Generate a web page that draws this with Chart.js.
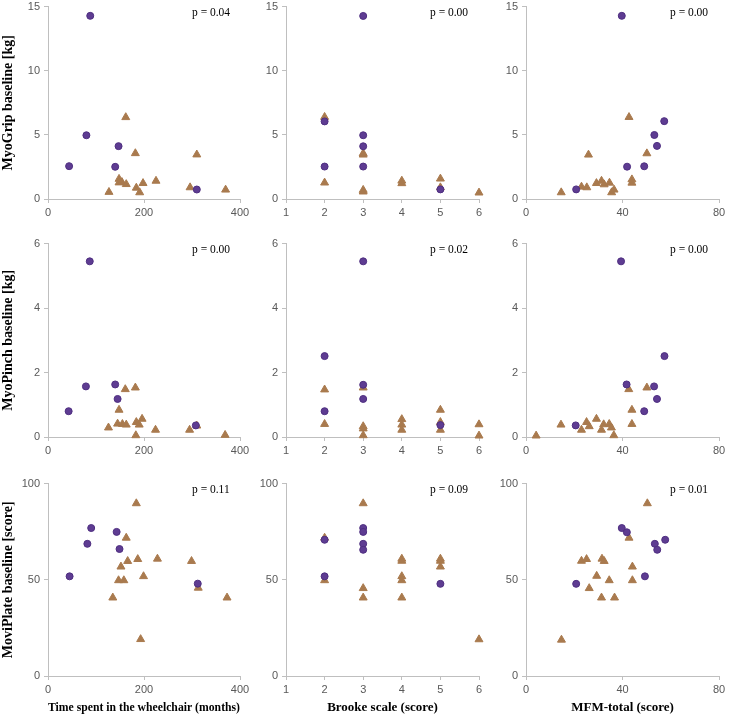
<!DOCTYPE html>
<html>
<head>
<meta charset="utf-8">
<script src="https://cdn.jsdelivr.net/npm/chart.js@4"></script>
<style>
  html, body { margin: 0; padding: 0; background: #fff; overflow: hidden; }
  #wrap { position: relative; width: 735px; height: 715px; }
  canvas { position: absolute; }
</style>
</head>
<body>
<div id="wrap"></div>
<script>
// tick labels
const timeTicks = [0, 200, 400];
const brookeTicks = [1, 2, 3, 4, 5, 6];
const mfmTicks = [0, 40, 80];
const gripTicks = [0, 5, 10, 15];
const pinchTicks = [0, 2, 4, 6];
const plateTicks = [0, 50, 100];

// axis titles
const xTitles = ["Time spent in the wheelchair (months)", "Brooke scale (score)", "MFM-total (score)"];
const yTitles = ["MyoGrip baseline [kg]", "MyoPinch baseline [kg]", "MoviPlate baseline [score]"];

// p values, row by row
const pValues = ["p = 0.04", "p = 0.00", "p = 0.00",
                 "p = 0.00", "p = 0.02", "p = 0.00",
                 "p = 0.11", "p = 0.09", "p = 0.01"];

// MyoGrip
const gripTimeCircles = [[44, 2.56], [80, 4.97], [88, 14.28], [147, 4.12], [140, 2.51], [310, 0.74]];
const gripTimeTriangles = [[162, 6.37], [182, 3.56], [310, 3.46], [127, 0.54], [148, 1.56], [148, 1.28], [154, 1.31],
  [163, 1.15], [184, 0.87], [191, 0.51], [198, 1.23], [225, 1.41], [296, 0.9], [370, 0.72]];
const gripBrookeCircles = [[2, 6.05], [2, 2.53], [3, 14.27], [3, 4.97], [3, 4.11], [3, 2.53], [5, 0.75]];
const gripBrookeTriangles = [[2, 6.39], [2, 1.27], [3, 3.45], [3, 3.56], [3, 0.7], [3, 0.57], [4, 1.42], [4, 1.22],
  [5, 1.58], [5, 0.9], [6, 0.49]];
const gripMfmCircles = [[20.8, 0.75], [39.7, 14.28], [41.9, 2.52], [49, 2.55], [53.2, 4.99], [54.3, 4.14], [57.3, 6.07]];
const gripMfmTriangles = [[14.6, 0.51], [23, 0.95], [25.2, 0.9], [25.9, 3.45], [29.2, 1.23], [31.3, 1.41], [32.4, 1.13],
  [34.6, 1.26], [35.5, 0.51], [36.5, 0.72], [42.7, 6.38], [43.9, 1.52], [43.9, 1.26], [50.1, 3.55]];

// MyoPinch
const pinchTimeCircles = [[43, 0.8], [79, 1.57], [87, 5.45], [140, 1.63], [145, 1.18], [308, 0.36]];
const pinchTimeTriangles = [[126, 0.29], [145, 0.41], [148, 0.84], [155, 0.4], [161, 1.48], [163, 0.38], [182, 1.53],
  [183, 0.05], [184, 0.46], [190, 0.38], [196, 0.56], [224, 0.22], [295, 0.22], [310, 0.35], [369, 0.06]];
const pinchBrookeCircles = [[2, 2.51], [2, 0.8], [3, 5.45], [3, 1.62], [3, 1.18], [5, 0.37]];
const pinchBrookeTriangles = [[2, 1.47], [2, 0.4], [3, 1.53], [3, 0.33], [3, 0.26], [3, 0.05], [4, 0.55], [4, 0.38],
  [4, 0.22], [5, 0.84], [5, 0.46], [5, 0.22], [6, 0.39], [6, 0.04]];
const pinchMfmCircles = [[20.6, 0.36], [39.4, 5.45], [41.7, 1.63], [49, 0.8], [53.1, 1.57], [54.3, 1.18], [57.4, 2.51]];
const pinchMfmTriangles = [[4.2, 0.04], [14.5, 0.38], [23, 0.22], [25.1, 0.46], [26.2, 0.33], [29.2, 0.56], [31.3, 0.22],
  [32.2, 0.39], [34.5, 0.4], [35.4, 0.29], [36.4, 0.05], [42.6, 1.48], [43.9, 0.84], [43.9, 0.4], [50.1, 1.53]];

// MoviPlate
const plateTimeCircles = [[45, 51.8], [82, 68.7], [90, 76.9], [143, 74.9], [149, 66], [312, 48]];
const plateTimeTriangles = [[135, 40.7], [147, 49.7], [152, 56.8], [158, 49.7], [163, 71.8], [166, 59.7], [184, 89.7],
  [187, 60.7], [193, 19.1], [199, 51.8], [228, 60.9], [299, 59.7], [313, 45.8], [373, 40.7]];
const plateBrookeCircles = [[2, 70.8], [2, 51.8], [3, 76.9], [3, 74.9], [3, 68.7], [3, 65.6], [5, 47.9]];
const plateBrookeTriangles = [[2, 71.8], [2, 49.7], [3, 89.7], [3, 45.6], [3, 40.7], [4, 60.9], [4, 59.8], [4, 51.8],
  [4, 49.7], [4, 40.7], [5, 60.9], [5, 59.8], [5, 56.8], [6, 19]];
const plateMfmCircles = [[20.8, 47.9], [39.7, 76.9], [41.8, 74.7], [49.3, 51.8], [53.4, 68.7], [54.4, 65.6], [57.7, 70.8]];
const plateMfmTriangles = [[14.7, 18.8], [23, 59.8], [25.1, 60.7], [26.2, 45.6], [29.3, 52], [31.3, 40.7], [31.5, 60.9],
  [32.4, 59.7], [34.5, 49.7], [36.7, 40.7], [42.7, 71.8], [44.1, 56.8], [44.1, 49.7], [50.3, 89.7]];

const circleSets = [
  [gripTimeCircles, gripBrookeCircles, gripMfmCircles],
  [pinchTimeCircles, pinchBrookeCircles, pinchMfmCircles],
  [plateTimeCircles, plateBrookeCircles, plateMfmCircles]
];
const triangleSets = [
  [gripTimeTriangles, gripBrookeTriangles, gripMfmTriangles],
  [pinchTimeTriangles, pinchBrookeTriangles, pinchMfmTriangles],
  [plateTimeTriangles, plateBrookeTriangles, plateMfmTriangles]
];
const xTickSets = [timeTicks, brookeTicks, mfmTicks];
const yTickSets = [gripTicks, pinchTicks, plateTicks];

// layout (page pixels of each plot area)
const colLeft = [48, 286, 526], colRight = [240, 479, 719];
const rowTop = [4, 241, 481], rowBottom = [199, 437, 676];
const Y_W = 48, PAD_T = 8, PAD_R = 16;
const xAxisH = [20, 20, 39];

const axisColor = "#BFBFBF";
const tickFont = { family: "Liberation Sans", size: 11 };

const pLabel = {
  id: "pLabel",
  afterDraw(chart, args, opts) {
    const ctx = chart.ctx;
    ctx.save();
    ctx.font = '11.5px "Liberation Serif"';
    ctx.fillStyle = "#000";
    ctx.textAlign = "left";
    ctx.textBaseline = "middle";
    ctx.fillText(opts.text, chart.chartArea.left + 144, chart.chartArea.top + 6);
    ctx.restore();
  }
};

const wrap = document.getElementById("wrap");

for (let r = 0; r < 3; r++) {
  for (let c = 0; c < 3; c++) {
    const plotW = colRight[c] - colLeft[c];
    const plotH = rowBottom[r] - rowTop[r];
    const canvas = document.createElement("canvas");
    canvas.width = Y_W + plotW + PAD_R;
    canvas.height = PAD_T + plotH + xAxisH[r];
    canvas.style.left = (colLeft[c] - Y_W) + "px";
    canvas.style.top = (rowTop[r] - PAD_T) + "px";
    canvas.style.width = canvas.width + "px";
    canvas.style.height = canvas.height + "px";
    wrap.appendChild(canvas);

    const xt = xTickSets[c], yt = yTickSets[r];

    new Chart(canvas.getContext("2d"), {
      type: "scatter",
      data: {
        datasets: [
          {
            data: circleSets[r][c].map(p => ({ x: p[0], y: p[1] })),
            pointStyle: "circle",
            pointRadius: 3.5,
            backgroundColor: "#5E3C92",
            borderColor: "#4E2E80",
            borderWidth: 1,
            clip: false
          },
          {
            data: triangleSets[r][c].map(p => ({ x: p[0], y: p[1] })),
            pointStyle: "triangle",
            pointRadius: 4.6,
            backgroundColor: "#A97A4E",
            borderColor: "#A97A4E",
            borderWidth: 1,
            clip: false
          }
        ]
      },
      options: {
        responsive: false,
        animation: false,
        events: [],
        layout: { padding: { top: PAD_T, right: PAD_R, left: 0, bottom: 0 } },
        plugins: {
          legend: { display: false },
          tooltip: { enabled: false },
          pLabel: { text: pValues[r * 3 + c] }
        },
        scales: {
          x: {
            type: "linear",
            min: xt[0],
            max: xt[xt.length - 1],
            afterBuildTicks: s => { s.ticks = xt.map(v => ({ value: v })); },
            afterFit: s => { s.height = xAxisH[r]; },
            grid: { drawOnChartArea: false, tickLength: 4, color: axisColor },
            border: { color: axisColor },
            ticks: { font: tickFont, color: "#595959", padding: 3, maxRotation: 0 },
            title: {
              display: r === 2,
              text: xTitles[c],
              color: "#000",
              font: { family: "Liberation Serif", size: 13, weight: "bold" },
              padding: { top: 0, bottom: 0 }
            }
          },
          y: {
            type: "linear",
            min: yt[0],
            max: yt[yt.length - 1],
            afterBuildTicks: s => { s.ticks = yt.map(v => ({ value: v })); },
            afterFit: s => { s.width = Y_W; },
            grid: { drawOnChartArea: false, tickLength: 4, color: axisColor },
            border: { color: axisColor },
            ticks: { font: tickFont, color: "#595959", padding: 4 },
            title: {
              display: c === 0,
              text: yTitles[r],
              color: "#000",
              font: { family: "Liberation Serif", size: 14, weight: "bold" },
              padding: { top: 0, bottom: 0 }
            }
          }
        }
      },
      plugins: [pLabel]
    });
  }
}
</script>
</body>
</html>
